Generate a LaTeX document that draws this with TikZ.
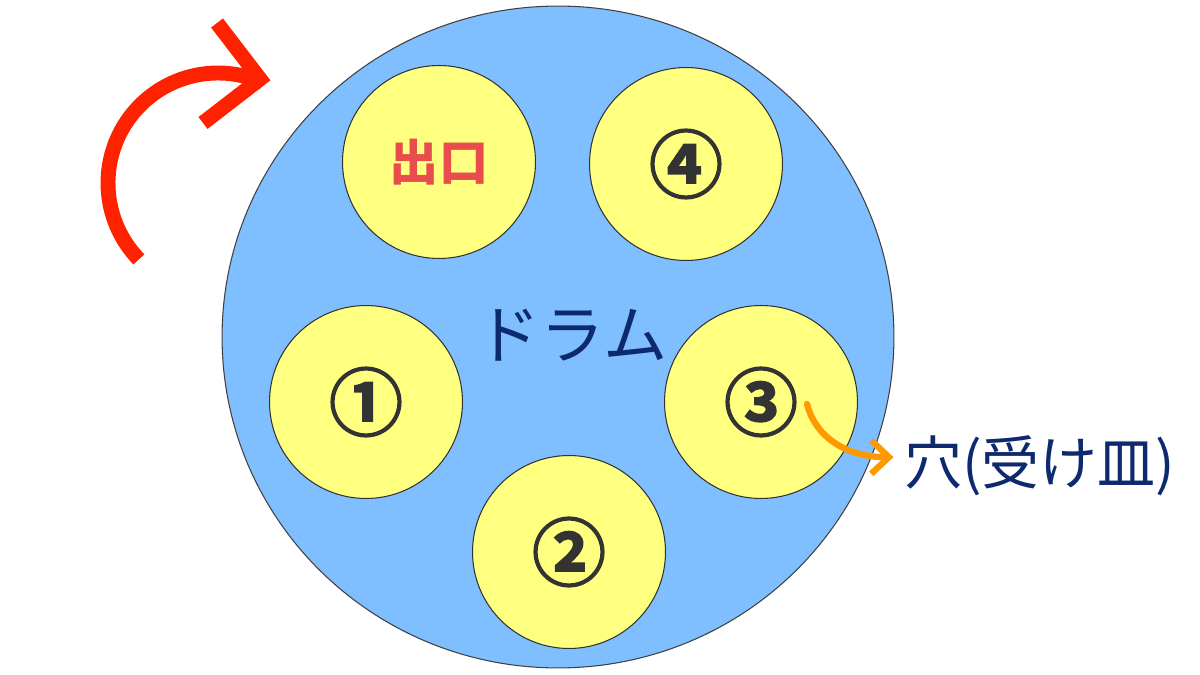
\documentclass[tikz,border=0pt]{standalone}
\usepackage{fontspec}
\newfontfamily\jpfont{Noto Sans CJK JP}
\newfontfamily\digitfont[FakeBold=2]{Noto Sans CJK JP Bold}
\usepackage{tikz}
\usetikzlibrary{shapes.geometric}
\usetikzlibrary{arrows.meta}
\definecolor{drumblue}{HTML}{80BFFF}
\definecolor{slotyellow}{HTML}{FFFF80}
\definecolor{turnred}{HTML}{FF2200}
\definecolor{pointorange}{HTML}{FF9900}
\definecolor{labelnavy}{HTML}{0D2A6E}
\definecolor{exitred}{HTML}{E84C4C}
\definecolor{digitgray}{HTML}{333333}
\tikzset{
	drum/.style={shape=ellipse, draw=black!75, line width=0.6pt, fill=drumblue, minimum width=13.44cm, minimum height=13.24cm, inner sep=0pt},
	slot/.style={shape=circle, draw=black!80, line width=0.6pt, fill=slotyellow, minimum size=3.86cm, inner sep=0pt, text=digitgray, font=\digitfont\fontsize{42pt}{44pt}\selectfont},
	exitslot/.style={slot, text=exitred, font=\jpfont\bfseries\fontsize{28pt}{30pt}\selectfont},
	navylabel/.style={inner sep=0pt, text=labelnavy, font=\jpfont\fontsize{33pt}{35pt}\selectfont},
	drumlabel/.style={navylabel, font=\jpfont\fontsize{36.5pt}{38pt}\selectfont},
	turnarrow/.style={draw=turnred, line width=8.5pt, line cap=butt, line join=miter},
	pointer/.style={draw=pointorange, line width=3.6pt, line cap=round, -{Straight Barb[length=10pt, width=19pt]}}
}
\begin{document}
\begin{tikzpicture}[x=0.02cm, y=-0.02cm]
			\useasboundingbox (0, 0) rectangle (1200, 675);
			% Drum, slots and labels:
			\node[drum] (drum) at (558, 337){};
			\node[exitslot] (exit) at (439, 162){出口};
			\node[slot] (four) at (686, 164){\raisebox{2.5pt}{④}};
			\node[slot] (one) at (366, 402){\raisebox{2.5pt}{①}};
			\node[slot] (three) at (761, 402){\raisebox{2.5pt}{③}};
			\node[slot] (two) at (569, 552){\raisebox{2.5pt}{②}};
			\node[drumlabel] (drumname) at (572, 335){ドラム};
			\node[navylabel, anchor=west] (hole) at (904, 466){穴(受け皿)};
			% Turning direction and pointer:
			\draw[turnarrow] (218, 183) ++(136:110) arc[start angle=136, end angle=294, radius=110];
			\draw[turnarrow] (217, 23) -- (260, 79) -- (203, 123);
			\coordinate (holestart) at (807, 404);
			\draw[pointer, shorten >=6pt] (holestart) .. controls (815, 436) and (845, 457) .. ([yshift=5pt]hole.west);
		\end{tikzpicture}
\end{document}
